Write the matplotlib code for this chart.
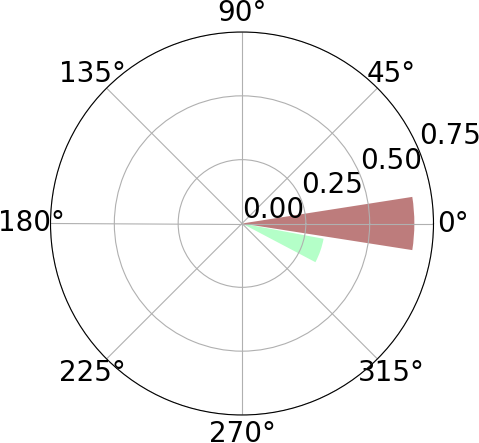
import numpy as np
import matplotlib
matplotlib.use("Agg")
import matplotlib.pyplot as plt

# bar centres (degrees), radii, widths (radians)
angles_deg = [0.0, -19.2]
radii = [0.675, 0.325]
widths = [0.31, 0.30]
colors = ["#bd7c7c", "#b4ffc8"]
rticks = [0.0, 0.25, 0.5, 0.75]

fig = plt.figure(figsize=(4.79, 4.43), dpi=100)
ax = fig.add_axes([50.5 / 479, 28 / 443, 383 / 479, 383 / 443], projection="polar")

# draw green first so the brown one sits on top
for i in [1, 0]:
    ax.bar(np.deg2rad(angles_deg[i]), radii[i], width=widths[i],
           color=colors[i], bottom=0.0)

ax.set_rlim(0, 0.75)
ax.set_rticks(rticks)
ax.tick_params(labelsize=20)
ax.grid(True)

fig.savefig("out.png", dpi=100)
